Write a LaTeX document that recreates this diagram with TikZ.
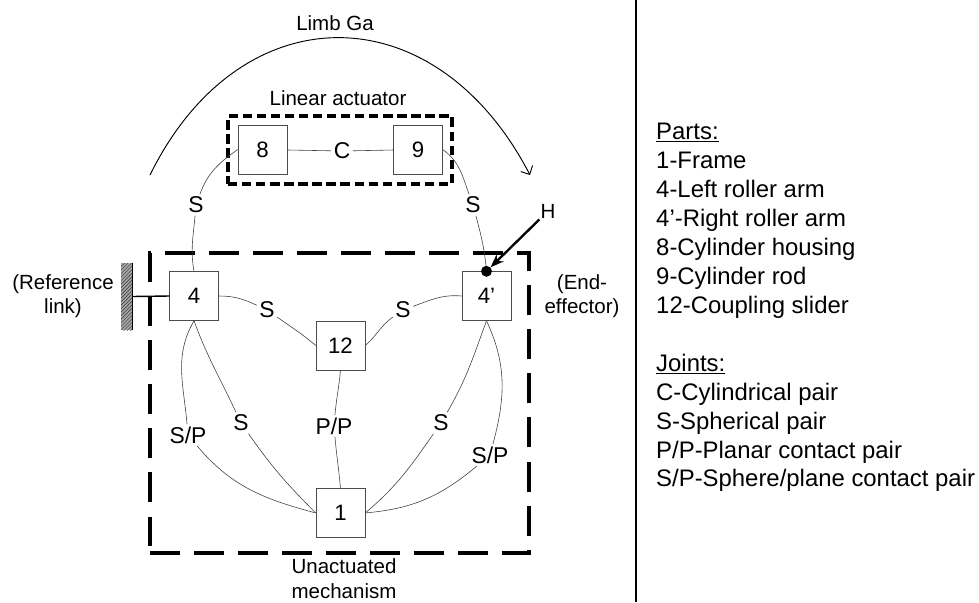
\documentclass[tikz,border=0pt]{standalone}
\usepackage{fontspec}
\setmainfont{Liberation Sans}
\usetikzlibrary{arrows.meta, positioning, patterns}
\begin{document}
\begin{tikzpicture}[
    x=0.03cm, y=-0.03cm,
    font=\fontsize{17.5}{21}\selectfont,
    link/.style={rectangle, draw=black!70, fill=white, inner sep=0pt, minimum size=1.47cm, font=\fontsize{19}{23}\selectfont},
    joint/.style={fill=white, inner sep=2pt, font=\fontsize{19.5}{23}\selectfont},
    curve/.style={draw=black!75, line width=0.5pt},
    label/.style={align=center, inner sep=0pt}
]
\useasboundingbox (0,0) rectangle (979,602);
% dashed frames
\node[draw, line width=3.2pt, dash pattern=on 25.6pt off 12pt, minimum width=11.37cm, minimum height=9cm, inner sep=0pt] (unact) at (339.5,403) {};
\node[draw, line width=3pt, dash pattern=on 8pt off 4pt, minimum width=6.72cm, minimum height=2.04cm, inner sep=0pt] (actbox) at (340,150) {};
% links
\node[link] (four) at (194,296) {4};
\node[link, right=7.29cm of four] (fourp) {4'};
\node[link, below right=0cm and 2.91cm of four] (twelve) {12};
\node[link, below=3.54cm of twelve] (one) {1};
\node[link, above right=2.91cm and 0.57cm of four] (eight) {8};
\node[link, right=3.18cm of eight] (nine) {9};
% joints
\node[joint] (jc) at (342,151) {C};
\node[joint] (js8) at (196,205) {S};
\node[joint] (js9) at (473,205) {S};
\node[joint] (jsl) at (267,310) {S};
\node[joint] (jsr) at (403,310) {S};
\node[joint] (jpp) at (334,426) {P/P};
\node[joint] (jsa) at (241,423) {S};
\node[joint] (jsb) at (441,423) {S};
\node[joint] (jspl) at (188,435) {S/P};
\node[joint] (jspr) at (490,455) {S/P};
% connectors
\draw[curve] (eight) -- (jc);
\draw[curve] (jc) -- (nine);
\draw[curve] (eight.west) to[out=215,in=70] (js8);
\draw[curve] (js8) to[out=-95,in=100] (four.north);
\draw[curve] (nine.east) to[out=-35,in=110] (js9);
\draw[curve] (js9) to[out=-75,in=95] (fourp.north);
\draw[curve] (four.east) to[out=0,in=155] (jsl);
\draw[curve] (jsl) to[out=-35,in=140] (twelve.west);
\draw[curve] (fourp.west) to[out=175,in=20] (jsr);
\draw[curve] (jsr) to[out=-145,in=40] (twelve.east);
\draw[curve] (twelve.south) to[out=-95,in=85] (jpp);
\draw[curve] (jpp) to[out=-85,in=95] (one.north);
\draw[curve] (four.south) to[out=-120,in=95] (jspl);
\draw[curve] (jspl) to[out=-50,in=165] (one.west);
\draw[curve] (four.south) to[out=-70,in=115] (jsa);
\draw[curve] (jsa) to[out=-55,in=135] (one.west);
\draw[curve] (fourp.south) to[out=-110,in=60] (jsb);
\draw[curve] (jsb) to[out=-125,in=40] (one.east);
\draw[curve] (fourp.south) to[out=-65,in=75] (jspr);
\draw[curve] (jspr) to[out=-140,in=5] (one.east);
% reference link
\node[rectangle, preaction={fill=black!35}, pattern=north east lines, pattern color=black!80, minimum width=0.33cm, minimum height=2.01cm, inner sep=0pt] (wall) at (126.5,296.5) {};
\draw[line width=1.2pt] (wall.north east) -- (wall.south east);
\draw[line width=1.2pt] (wall.east) -- (four.west);
% limb arc
\coordinate (gastart) at (150,175);
\coordinate (gaend) at (530,175);
\draw[line width=0.8pt, -{Straight Barb[length=2mm]}] (gastart) .. controls (240,-8) and (435,-8) .. (gaend);
% higher pair
\node[circle, fill=black, inner sep=0pt, minimum size=0.33cm] (hdot) at (fourp.north) {};
\node[inner sep=1pt] (hlabel) at (548,211) {H};
\draw[line width=2pt, -{Stealth[length=4mm]}] (hlabel) -- (hdot);
% labels
\node[label] (limbga) at (335,23) {Limb Ga};
\node[label] (actlabel) at (338,98) {Linear actuator};
\node[label] (reflabel) at (63,296) {(Reference\\link)};
\node[label] (endlabel) at (582,296) {(End-\\effector)};
\node[label, font=\fontsize{17.5}{21.5}\selectfont] (unactlabel) at (344,579) {Unactuated\\mechanism};
% divider
\coordinate (divtop) at (636,0);
\coordinate (divbot) at (636,602);
\draw[line width=1.5pt] (divtop) -- (divbot);
% legend
\node[label, align=left, anchor=north west, font=\fontsize{20.4}{24.7}\selectfont] (legend) at (656,123) {\underline{Parts:}\\1-Frame\\4-Left roller arm\\4'-Right roller arm\\8-Cylinder housing\\9-Cylinder rod\\12-Coupling slider\\[24.7pt]\underline{Joints:}\\C-Cylindrical pair\\S-Spherical pair\\P/P-Planar contact pair\\S/P-Sphere/plane contact pair};
\end{tikzpicture}
\end{document}
